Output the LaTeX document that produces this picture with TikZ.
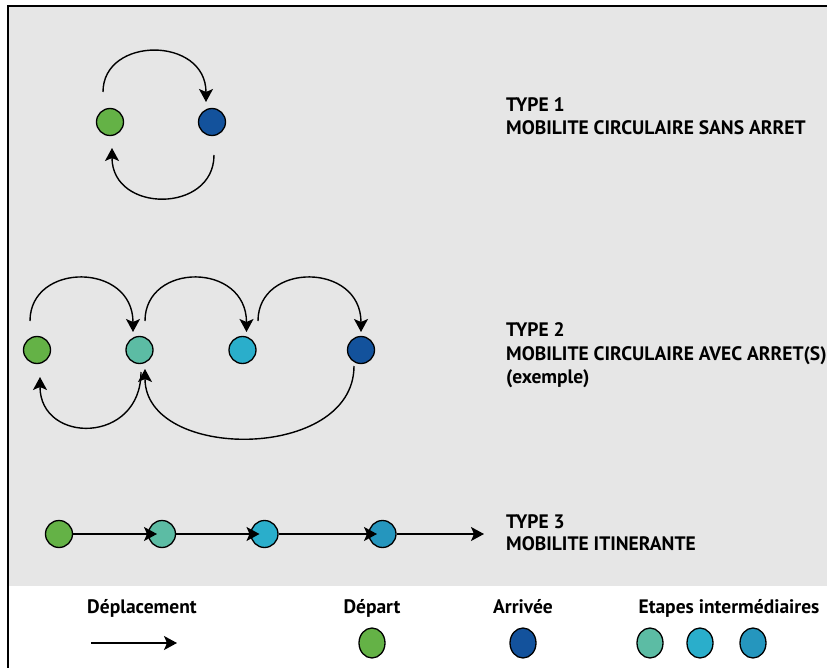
\documentclass[tikz,border=0pt]{standalone}
\usepackage{fontspec}
\setmainfont{PT Sans}
\usetikzlibrary{arrows.meta,shapes.geometric}
\definecolor{cgreen}{HTML}{64B246}
\definecolor{cdark}{HTML}{13529C}
\definecolor{cteal}{HTML}{5CBCA4}
\definecolor{ccyan}{HTML}{2AAECB}
\definecolor{cmid}{HTML}{2596BE}
\definecolor{cbg}{HTML}{E6E6E6}
\begin{document}
\begin{tikzpicture}[x=1pt,y=-1pt,
  dot/.style={circle,draw=black,line width=1.3pt,minimum size=27pt,inner sep=0pt},
  legdot/.style={ellipse,draw=black,line width=1.3pt,minimum width=26pt,minimum height=30pt,inner sep=0pt},
  conn/.style={line width=1.4pt,-{Stealth[length=13pt,width=14pt,inset=3pt]}},
  lbl/.style={font=\bfseries\fontsize{19.5}{22}\selectfont,anchor=base west,inner sep=0pt},
  leg/.style={font=\bfseries\fontsize{19.5}{22}\selectfont,anchor=base,inner sep=0pt}]
\useasboundingbox (0,0) rectangle (827,668);
\fill[cbg] (8,6) rectangle (830,586);
\draw[line width=1.5pt] (8,670) -- (8,6) -- (830,6);

% Type 1
\node[dot,fill=cgreen] (g1) at (110,122) {};
\node[dot,fill=cdark] (b1) at (212,122) {};
\draw[conn] ([shift={(-7,-30)}]g1.center) .. controls +(0,-56) and +(0,-66) .. ([shift={(-6,-20)}]b1.center);
\draw[conn] ([shift={(2,33)}]b1.center) .. controls +(0,58.5) and +(0,65.5) .. ([shift={(2,26)}]g1.center);
\node[lbl] (t1a) at (506,111.7) {TYPE 1};
\node[lbl] (t1b) at (506,134.3) {MOBILITE CIRCULAIRE SANS ARRET};

% Type 2
\node[dot,fill=cgreen] (g2) at (37,350) {};
\node[dot,fill=cteal] (t2) at (139.5,350) {};
\node[dot,fill=ccyan] (c2) at (242.5,350) {};
\node[dot,fill=cdark] (b2) at (361,350) {};
\draw[conn] ([shift={(-7,-29)}]g2.center) .. controls +(0,-59) and +(0,-70) .. ([shift={(-6.5,-18)}]t2.center);
\draw[conn] ([shift={(5.5,-29)}]t2.center) .. controls +(0,-59) and +(0,-70) .. ([shift={(4,-18)}]c2.center);
\draw[conn] ([shift={(15.5,-29)}]c2.center) .. controls +(0,-59) and +(0,-70) .. ([shift={(0,-18)}]b2.center);
\draw[conn] ([shift={(1.5,22)}]t2.center) .. controls +(0,72.5) and +(0,67.5) .. ([shift={(3,27)}]g2.center);
\draw[conn] ([shift={(-7,16)}]b2.center) .. controls +(0,95.5) and +(0,92.5) .. ([shift={(5.5,19)}]t2.center);
\node[lbl] (t2a) at (506,336.7) {TYPE 2};
\node[lbl] (t2b) at (506,360) {MOBILITE CIRCULAIRE AVEC ARRET(S)};
\node[lbl] (t2c) at (506,383) {(exemple)};

% Type 3
\node[dot,fill=cgreen] (g3) at (59,534) {};
\node[dot,fill=cteal] (t3) at (162,534) {};
\node[dot,fill=ccyan] (c3) at (264.5,534) {};
\node[dot,fill=cmid] (m3) at (382.5,534) {};
\coordinate (e3) at (484,534);
\draw[conn] (g3.east) -- ([xshift=-5]t3.center);
\draw[conn] (t3.east) -- ([xshift=-5]c3.center);
\draw[conn] (c3.east) -- ([xshift=-5.5]m3.center);
\draw[conn] (m3.east) -- (e3);
\node[lbl] (t3a) at (506,528.5) {TYPE 3};
\node[lbl] (t3b) at (506,550) {MOBILITE ITINERANTE};

% Legend
\node[leg] (ld) at (142,613) {Déplacement};
\coordinate (la1) at (91,643);
\coordinate (la2) at (177,643);
\draw[conn] (la1) -- (la2);
\node[leg] (ldep) at (372,613) {Départ};
\node[legdot,fill=cgreen] (lg) at (372,643) {};
\node[leg] (larr) at (523,613) {Arrivée};
\node[legdot,fill=cdark] (lb) at (523,643) {};
\node[leg] (let) at (729,613) {Etapes intermédiaires};
\node[legdot,fill=cteal] (l1) at (650,643) {};
\node[legdot,fill=ccyan] (l2) at (700,643) {};
\node[legdot,fill=cmid] (l3) at (753,643) {};
\end{tikzpicture}
\end{document}
